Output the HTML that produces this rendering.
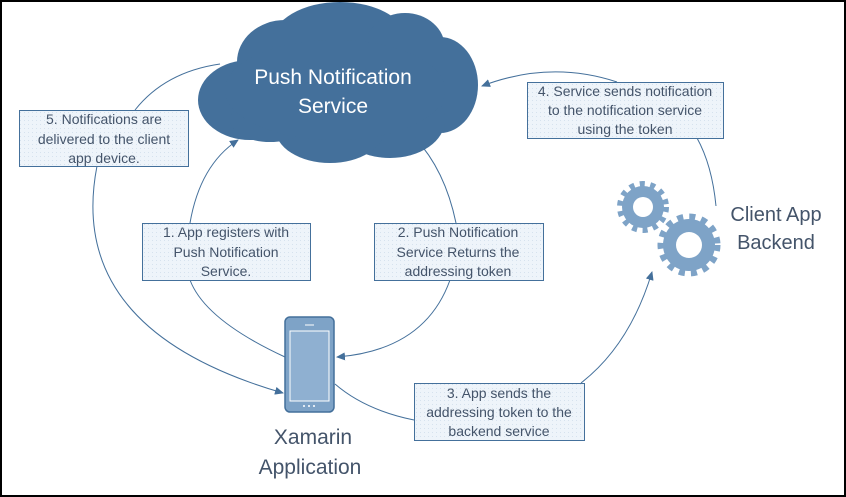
<!DOCTYPE html>
<html><head><meta charset="utf-8"><style>
html,body{margin:0;padding:0;background:#fff}
svg{display:block}
text{font-family:"Liberation Sans",sans-serif}
</style></head><body>
<svg width="846" height="497" viewBox="0 0 846 497" xmlns="http://www.w3.org/2000/svg">
<defs>
<marker id="a" markerWidth="10" markerHeight="10" refX="8" refY="4" orient="auto" markerUnits="userSpaceOnUse">
<path d="M0,0 L9,4 L0,8 z" fill="#44709b"/></marker>
<pattern id="dots" width="4" height="4" patternUnits="userSpaceOnUse"><rect width="4" height="4" fill="#eef4fa"/><rect width="1" height="1" fill="#d6e2ee"/></pattern>
</defs>
<rect x="1" y="1" width="844" height="495" fill="#fff" stroke="#000" stroke-width="2"/>
<!-- cloud -->
<g fill="#44709b">
<ellipse cx="250" cy="100" rx="52" ry="40"/>
<ellipse cx="285" cy="62" rx="48" ry="42"/>
<ellipse cx="340" cy="42" rx="68" ry="40"/>
<ellipse cx="405" cy="48" rx="40" ry="35"/>
<ellipse cx="440" cy="85" rx="38" ry="48"/>
<ellipse cx="390" cy="120" rx="55" ry="38"/>
<ellipse cx="330" cy="128" rx="55" ry="35"/>
<ellipse cx="270" cy="120" rx="40" ry="22"/>
<ellipse cx="335" cy="90" rx="110" ry="50"/>
</g>
<text x="333" y="84" font-size="21" fill="#fff" text-anchor="middle">Push Notification</text>
<text x="333" y="113" font-size="21" fill="#fff" text-anchor="middle">Service</text>
<!-- connectors -->
<g fill="none" stroke="#44709b" stroke-width="1">
<path d="M220,64 Q165,72 135,110"/>
<path d="M97,166 Q65,330 283,393" marker-end="url(#a)"/>
<path d="M285,357 Q205,320 190,280"/>
<path d="M190,223 Q200,165 238,140" marker-end="url(#a)"/>
<path d="M415,138 Q445,170 456,223"/>
<path d="M450,280 Q425,350 337,357" marker-end="url(#a)"/>
<path d="M335,384 Q365,410 414,420"/>
<path d="M581,383 Q630,345 652,272" marker-end="url(#a)"/>
<path d="M697,138 Q712,165 716,206"/>
<path d="M617,82 Q550,60 482,86" marker-end="url(#a)"/>
</g>
<!-- boxes -->
<g fill="url(#dots)" stroke="#44709b" stroke-width="1">
<rect x="19.5" y="110.5" width="169" height="56"/>
<rect x="142.5" y="223.5" width="168" height="57"/>
<rect x="374.5" y="223.5" width="169" height="57"/>
<rect x="414.5" y="383.5" width="170" height="57"/>
<rect x="527.5" y="82.5" width="196" height="56"/>
</g>
<g font-size="14" fill="#44546a" text-anchor="middle">
<text x="104" y="124">5. Notifications are</text>
<text x="104" y="144">delivered to the client</text>
<text x="104" y="163">app device.</text>
<text x="226" y="237">1. App registers with</text>
<text x="226" y="257">Push Notification</text>
<text x="226" y="276">Service.</text>
<text x="458" y="237">2. Push Notification</text>
<text x="458" y="257">Service Returns the</text>
<text x="458" y="276">addressing token</text>
<text x="499" y="398">3. App sends the</text>
<text x="499" y="417">addressing token to the</text>
<text x="499" y="436">backend service</text>
<text x="625" y="96">4. Service sends notification</text>
<text x="625" y="115">to the notification service</text>
<text x="625" y="134">using the token</text>
</g>
<!-- phone -->
<rect x="285" y="317" width="49" height="95" rx="5" fill="#7ea3c7" stroke="#44709b" stroke-width="1.5"/>
<rect x="290" y="331" width="39" height="70" fill="#8fb0d1" stroke="#fff" stroke-width="1"/>
<line x1="305" y1="325" x2="314" y2="325" stroke="#fff"/>
<circle cx="304" cy="406" r="1" fill="#fff"/><circle cx="309" cy="406" r="1" fill="#fff"/><circle cx="314" cy="406" r="1" fill="#fff"/>
<text x="313" y="444" font-size="21" fill="#44546a" text-anchor="middle">Xamarin</text>
<text x="310" y="474" font-size="21" fill="#44546a" text-anchor="middle">Application</text>
<!-- gears -->
<g fill="#7ea3c7">
<circle cx="643" cy="207" r="21"/>
<g stroke="#7ea3c7" stroke-width="6" stroke-dasharray="5 5.5">
<circle cx="643" cy="207" r="23" fill="none"/></g>
<circle cx="689" cy="245" r="26"/>
<g stroke="#7ea3c7" stroke-width="7" stroke-dasharray="6 6">
<circle cx="689" cy="245" r="28" fill="none"/></g>
</g>
<circle cx="643" cy="207" r="10" fill="#fff"/>
<circle cx="689" cy="245" r="13" fill="#fff"/>
<text x="776" y="221" font-size="20" fill="#44546a" text-anchor="middle">Client App</text>
<text x="776" y="249" font-size="20" fill="#44546a" text-anchor="middle">Backend</text>
</svg>
</body></html>
